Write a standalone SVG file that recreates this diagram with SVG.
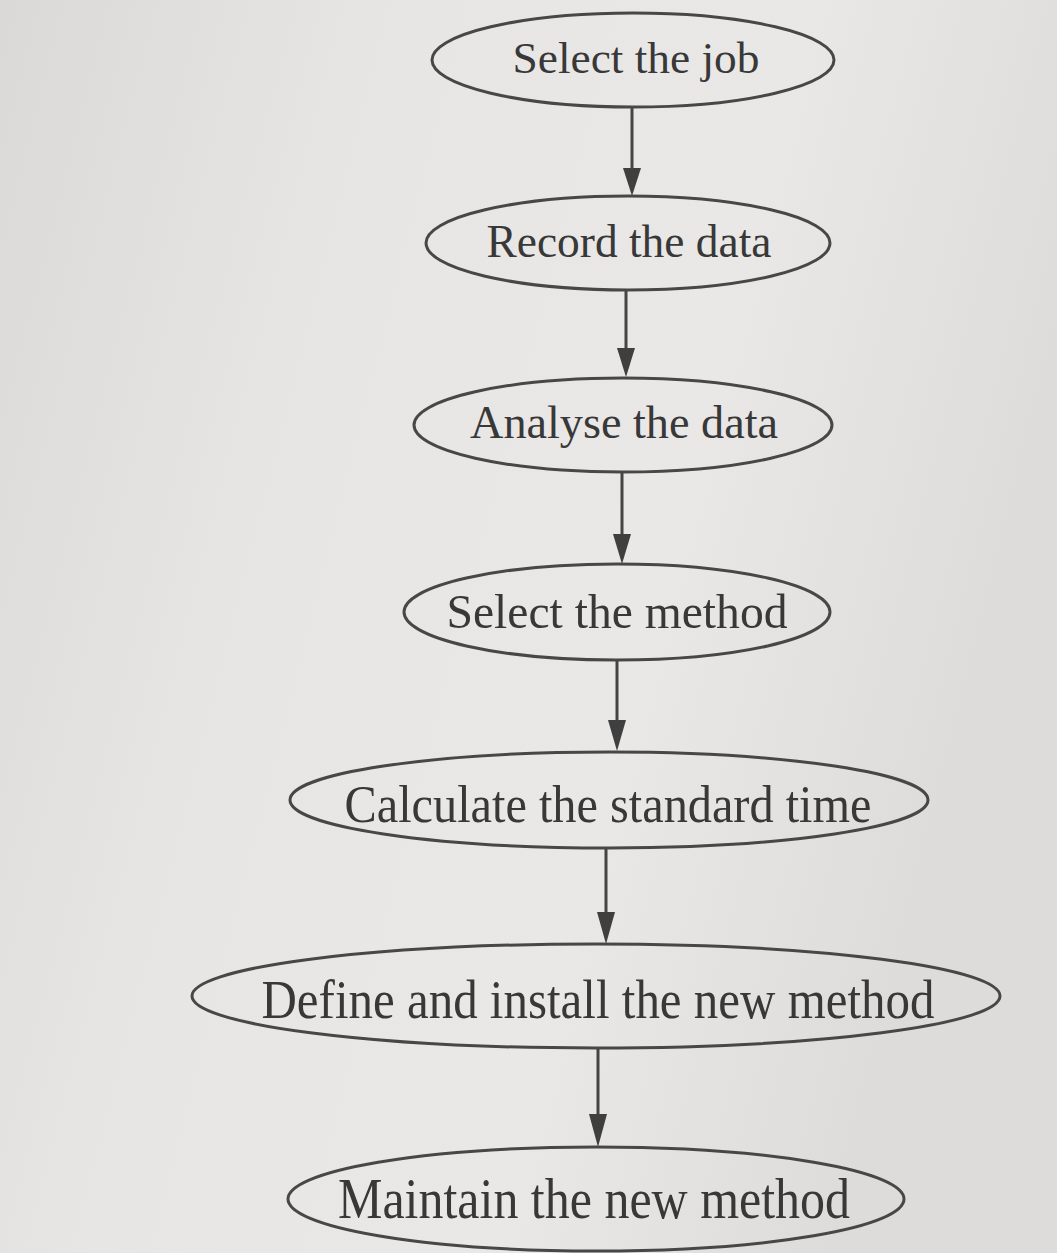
<svg xmlns="http://www.w3.org/2000/svg" width="1057" height="1253" viewBox="0 0 1057 1253">
<defs>
<linearGradient id="bg" x1="0" y1="0" x2="1" y2="0.3">
<stop offset="0" stop-color="#dbd9d7"/>
<stop offset="0.35" stop-color="#e8e6e4"/>
<stop offset="0.7" stop-color="#eae8e6"/>
<stop offset="1" stop-color="#dedcda"/>
</linearGradient>
<style>
.node ellipse{fill:none;stroke:#474747;stroke-width:3}
.node text{font-family:"Liberation Serif","Times New Roman",serif;fill:#383838;text-anchor:middle}
.conn line{stroke:#444;stroke-width:3}
.conn path{fill:#3f3f3f}
</style>
</defs>
<rect width="1057" height="1253" fill="url(#bg)"/>
<g class="conn" id="connectors">
<line x1="632" y1="107" x2="632" y2="172"/><path d="M623,168 L641,168 L632,196 z"/>
<line x1="626" y1="290" x2="626" y2="352"/><path d="M617,348 L635,348 L626,377 z"/>
<line x1="622" y1="472" x2="622" y2="538"/><path d="M613,534 L631,534 L622,564 z"/>
<line x1="617" y1="660" x2="617" y2="724"/><path d="M608,720 L626,720 L617,751 z"/>
<line x1="606" y1="848" x2="606" y2="916"/><path d="M597,912 L615,912 L606,944 z"/>
<line x1="598" y1="1048" x2="598" y2="1118"/><path d="M589,1114 L607,1114 L598,1147 z"/>
</g>
<g class="node" id="n1"><ellipse cx="633" cy="60" rx="201" ry="47"/><text x="636" y="73" font-size="45" textLength="247" lengthAdjust="spacingAndGlyphs">Select the job</text></g>
<g class="node" id="n2"><ellipse cx="628" cy="243" rx="202" ry="47"/><text x="629" y="257" font-size="46" textLength="285" lengthAdjust="spacingAndGlyphs">Record the data</text></g>
<g class="node" id="n3"><ellipse cx="623" cy="425" rx="209" ry="47"/><text x="624" y="438" font-size="47" textLength="308" lengthAdjust="spacingAndGlyphs">Analyse the data</text></g>
<g class="node" id="n4"><ellipse cx="617" cy="612" rx="213" ry="48"/><text x="617" y="628" font-size="49" textLength="341" lengthAdjust="spacingAndGlyphs">Select the method</text></g>
<g class="node" id="n5"><ellipse cx="609" cy="800" rx="319" ry="48"/><text x="608" y="822" font-size="53" textLength="527" lengthAdjust="spacingAndGlyphs">Calculate the standard time</text></g>
<g class="node" id="n6"><ellipse cx="596" cy="996" rx="404" ry="52"/><text x="598" y="1018" font-size="54" textLength="673" lengthAdjust="spacingAndGlyphs">Define and install the new method</text></g>
<g class="node" id="n7"><ellipse cx="596" cy="1199" rx="308" ry="52"/><text x="594" y="1218" font-size="56" textLength="512" lengthAdjust="spacingAndGlyphs">Maintain the new method</text></g>
</svg>
